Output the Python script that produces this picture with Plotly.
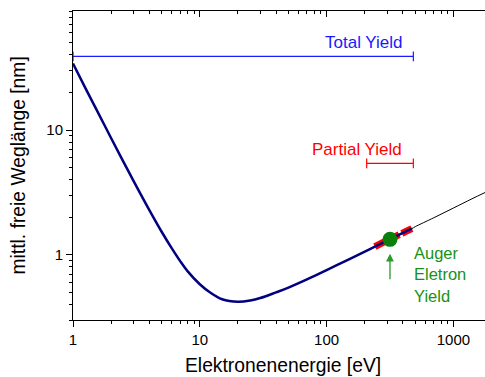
import numpy as np
import plotly.graph_objects as go

# Inelastic mean free path of electrons vs. kinetic energy (universal curve)
energy_ev = [1, 1.25, 1.5, 2, 2.5, 3, 4, 5, 6, 7, 8, 10, 12, 15, 20, 25, 30, 40, 50,
             70, 100, 150, 200, 240, 300, 400, 470, 500, 700, 1000, 1400, 1780]
imfp_nm = [34.1, 21.8, 15.2, 8.6, 5.56, 3.91, 2.28, 1.53, 1.13, 0.89, 0.74, 0.58, 0.50,
           0.44, 0.42, 0.43, 0.45, 0.50, 0.545, 0.634, 0.753, 0.92, 1.06, 1.16, 1.30,
           1.50, 1.62, 1.68, 1.98, 2.37, 2.81, 3.16]

# Probing-depth ranges of the detection modes
total_yield_range = [1, 483]
total_yield_depth = 38.9
partial_yield_range = [207, 483]
partial_yield_depth = 5.4
auger_energy = 316
auger_depth = 1.33

# Segments of the curve that are highlighted
blue_max_ev = 470
red_min_ev, red_max_ev = 240, 470

x_major = [1, 10, 100, 1000]
x_minor = [m * 10 ** d for d in range(0, 4) for m in range(2, 10)]
y_major = [1, 10]
y_minor = [0.3, 0.4, 0.5, 0.6, 0.7, 0.8, 0.9, 2, 3, 4, 5, 6, 7, 8, 9,
           20, 30, 40, 50, 60, 70, 80, 90]

E = np.array(energy_ev)
L = np.array(imfp_nm)
blue_mask = E <= blue_max_ev
red_mask = (E >= red_min_ev) & (E <= red_max_ev)

FONT = "Arial, Liberation Sans, sans-serif"
NAVY = "#000080"
BLUE = "#1a1aff"
RED = "#ff0000"
GREEN = "#0a7f0a"
GREEN_TXT = "#179217"

fig = go.Figure()

# full curve, thin black
fig.add_trace(go.Scatter(x=E, y=L, mode="lines", line=dict(color="black", width=1, shape="spline"),
                         showlegend=False, hoverinfo="skip"))
# partial-yield window on the curve (red dashed)
fig.add_trace(go.Scatter(x=E[red_mask], y=L[red_mask], mode="lines",
                         line=dict(color=RED, width=7, dash="12px,3px", shape="spline"),
                         showlegend=False, hoverinfo="skip"))
# total-yield part of the curve (navy)
fig.add_trace(go.Scatter(x=E[blue_mask], y=L[blue_mask], mode="lines",
                         line=dict(color=NAVY, width=2.5, shape="spline"),
                         showlegend=False, hoverinfo="skip"))

# range bars
fig.add_trace(go.Scatter(x=total_yield_range, y=[total_yield_depth] * 2, mode="lines+markers",
                         line=dict(color=BLUE, width=1.2),
                         marker=dict(symbol="line-ns", size=7, line=dict(color=BLUE, width=1.2)),
                         showlegend=False, hoverinfo="skip", cliponaxis=False))
fig.add_trace(go.Scatter(x=partial_yield_range, y=[partial_yield_depth] * 2, mode="lines+markers",
                         line=dict(color=RED, width=1.2),
                         marker=dict(symbol="line-ns", size=7, line=dict(color=RED, width=1.2)),
                         showlegend=False, hoverinfo="skip", cliponaxis=False))

# Auger electron point
fig.add_trace(go.Scatter(x=[auger_energy], y=[auger_depth], mode="markers",
                         marker=dict(color=GREEN, size=15, line=dict(width=0)),
                         showlegend=False, hoverinfo="skip"))

# helper trace so the top axis is drawn
fig.add_trace(go.Scatter(x=[10], y=[1], xaxis="x2", mode="markers",
                         marker=dict(opacity=0), showlegend=False, hoverinfo="skip"))

xr = [0, 3.249]
yr = [np.log10(0.3), np.log10(90)]

fig.update_layout(
    width=485, height=377,
    margin=dict(l=73, r=0, t=11, b=57),
    paper_bgcolor="white", plot_bgcolor="white",
    font=dict(family=FONT, size=15, color="black"),
    xaxis=dict(type="log", range=xr, tickvals=x_major, ticktext=[str(v) for v in x_major],
               ticks="outside", ticklen=6, tickwidth=1, tickcolor="black",
               showline=True, linecolor="black", linewidth=1, showgrid=False, zeroline=False,
               tickfont=dict(size=15),
               minor=dict(tickvals=x_minor, ticks="outside", ticklen=3, tickcolor="black", showgrid=False)),
    xaxis2=dict(type="log", range=xr, overlaying="x", side="top", anchor="y",
                tickvals=x_major, showticklabels=False,
                ticks="inside", ticklen=6, tickwidth=1, tickcolor="black",
                showline=True, linecolor="black", linewidth=1, showgrid=False, zeroline=False,
                minor=dict(tickvals=x_minor, ticks="inside", ticklen=3, tickcolor="black", showgrid=False)),
    yaxis=dict(type="log", range=yr, tickvals=y_major, ticktext=["1", "10"],
               ticks="outside", ticklen=6, tickwidth=1, tickcolor="black",
               showline=True, linecolor="black", linewidth=1, showgrid=False, zeroline=False,
               tickfont=dict(size=15),
               minor=dict(tickvals=y_minor, ticks="outside", ticklen=3, tickcolor="black", showgrid=False)),
    annotations=[
        dict(text="Elektronenenergie [eV]", xref="paper", yref="paper", x=0.509, y=0,
             xanchor="center", yanchor="middle", yshift=-45, showarrow=False,
             font=dict(size=19.3, family=FONT)),
        dict(text="mittl. freie Weglänge [nm]", xref="paper", yref="paper", x=0, y=0.5,
             xanchor="center", yanchor="middle", xshift=-55, textangle=-90, showarrow=False,
             font=dict(size=19.3, family=FONT)),
        dict(text="Total Yield", xref="x", yref="y", x=np.log10(415), y=np.log10(total_yield_depth),
             xanchor="right", yanchor="bottom", yshift=2, showarrow=False,
             font=dict(size=17, color=BLUE, family=FONT)),
        dict(text="Partial Yield", xref="x", yref="y", x=np.log10(405), y=np.log10(partial_yield_depth),
             xanchor="right", yanchor="bottom", yshift=2, showarrow=False,
             font=dict(size=17, color=RED, family=FONT)),
        dict(text="Auger<br>Eletron<br>Yield", xref="x", yref="y", x=np.log10(468), y=np.log10(0.69),
             xanchor="left", yanchor="middle", align="left", showarrow=False,
             font=dict(size=16.5, color=GREEN_TXT, family=FONT)),
        dict(text="", xref="x", yref="y", x=np.log10(auger_energy), y=np.log10(1.02),
             ax=0, ay=27, showarrow=True, arrowhead=2, arrowsize=1.2, arrowwidth=1.3,
             arrowcolor="#2a9a2a"),
    ],
)

fig.write_html("out.html")
